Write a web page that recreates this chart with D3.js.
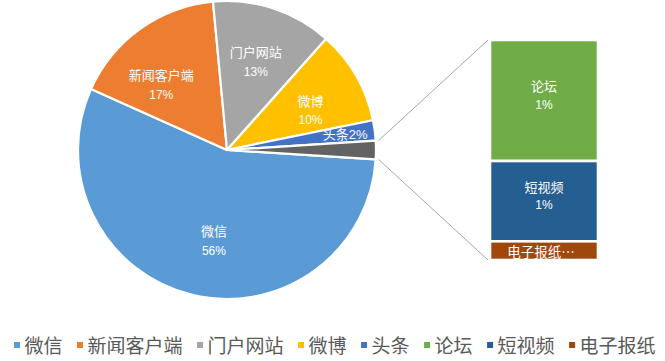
<!DOCTYPE html>
<html><head><meta charset="utf-8">
<script src="https://cdn.jsdelivr.net/npm/d3@7"></script>
<style>
body{margin:0;background:#fff;}
text{font-family:"Liberation Sans Narrow","Liberation Sans","Noto Sans CJK SC",sans-serif;}
</style></head>
<body><svg id="c" width="665" height="361"></svg>
<script>
// Main pie categories
const pieNames  = ["微信","新闻客户端","门户网站","微博","头条"];
const pieValues = [55.7, 16.8, 13.1, 10.2, 2.2];
const pieColors = ["#5B9BD5","#ED7D31","#A5A5A5","#FFC000","#4472C4"];
// Secondary bar categories (the "other" slice)
const barNames  = ["论坛","短视频","电子报纸"];
const barValues = [1.1, 0.73, 0.17];
const barColors = ["#70AD47","#255E91","#9E480E"];
const otherColor = "#636363";

const svg = d3.select("#c");
const cx = 227, cy = 150, r = 149;
const otherTotal = d3.sum(barValues);
const all = d3.sum(pieValues) + otherTotal;
const pct = d3.format(".0%");

const pieData = pieNames.map((n,i)=>({name:n, value:pieValues[i], color:pieColors[i]}))
  .concat([{name:"其他", value:otherTotal, color:otherColor, other:true}]);
const otherAng = otherTotal/all*2*Math.PI;
const start = Math.PI/2 + otherAng/2;
const arcs = d3.pie().sort(null).value(d=>d.value).startAngle(start).endAngle(start+2*Math.PI)(pieData);
const arc = d3.arc().innerRadius(0).outerRadius(r);
const g = svg.append("g").attr("transform",`translate(${cx},${cy})`);
g.selectAll("path").data(arcs).join("path")
  .attr("d",arc).attr("fill",d=>d.data.color)
  .attr("stroke","#fff").attr("stroke-width",2.2).attr("stroke-linejoin","round");

// slice labels (slight angular pull toward the large slice, as in the source)
const labelShift = [-0.1, -0.17, 0, 0.08, 0];
arcs.filter(a=>!a.data.other).forEach((a,i)=>{
  const span = a.endAngle - a.startAngle;
  const mid = (a.startAngle + a.endAngle)/2 + labelShift[i];
  const narrow = span < 0.2;
  const R = narrow ? r*0.8 : r*0.62;
  const x = R*Math.sin(mid), y = -R*Math.cos(mid);
  const t = a.data.value/all;
  if (narrow) {
    g.append("text").attr("x",x).attr("y",y).attr("text-anchor","middle")
      .attr("dominant-baseline","central").attr("fill","#fff").attr("font-size",13)
      .text(a.data.name + pct(t));
  } else {
    g.append("text").attr("x",x).attr("y",y-9.5).attr("text-anchor","middle")
      .attr("dominant-baseline","central").attr("fill","#fff").attr("font-size",13)
      .text(a.data.name);
    g.append("text").attr("x",x).attr("y",y+9.5).attr("text-anchor","middle")
      .attr("dominant-baseline","central").attr("fill","#fff").attr("font-size",12)
      .text(pct(t));
  }
});

// secondary bar
const barX = 490, barW = 108;
const yScale = d3.scaleLinear().domain([0, otherTotal]).range([40, 260]);
let acc = 0;
const segs = barValues.map((v,i)=>{const s={name:barNames[i],value:v,color:barColors[i],y0:acc,y1:acc+v}; acc+=v; return s;});
const bg = svg.append("g");
bg.selectAll("rect").data(segs).join("rect")
  .attr("x",barX).attr("width",barW)
  .attr("y",d=>yScale(d.y0)).attr("height",d=>yScale(d.y1)-yScale(d.y0))
  .attr("fill",d=>d.color).attr("stroke","#fff").attr("stroke-width",2.6);
segs.forEach(s=>{
  const h = yScale(s.y1)-yScale(s.y0);
  const my = (yScale(s.y0)+yScale(s.y1))/2;
  const mx = barX + barW/2;
  if (h < 30) {
    bg.append("text").attr("x",mx-3).attr("y",my).attr("text-anchor","middle")
      .attr("dominant-baseline","central").attr("fill","#fff").attr("font-size",13.5)
      .style("font-family","'Noto Sans CJK SC',sans-serif")
      .text(s.name + "⋯");
  } else {
    bg.append("text").attr("x",mx).attr("y",my-14).attr("text-anchor","middle")
      .attr("dominant-baseline","central").attr("fill","#fff").attr("font-size",13)
      .text(s.name);
    bg.append("text").attr("x",mx).attr("y",my+4).attr("text-anchor","middle")
      .attr("dominant-baseline","central").attr("fill","#fff").attr("font-size",12)
      .text(pct(s.value/all));
  }
});

// leader lines
const oa = arcs[arcs.length-1];
const lr = r + 3;
[[oa.startAngle, yScale(0)],[oa.endAngle, yScale(otherTotal)]].forEach(([ang, ty])=>{
  svg.append("line")
    .attr("x1", cx + lr*Math.sin(ang)).attr("y1", cy - lr*Math.cos(ang))
    .attr("x2", barX - 2).attr("y2", ty)
    .attr("stroke","#A6A6A6").attr("stroke-width",1);
});

// legend
const legNames = pieNames.concat(barNames);
const legColors = pieColors.concat(barColors);
const lg = svg.append("g");
let lx = 14;
legNames.forEach((n,i)=>{
  lg.append("rect").attr("x",lx).attr("y",342).attr("width",6).attr("height",6).attr("fill",legColors[i]);
  const t = lg.append("text").attr("x",lx+10.5).attr("y",346).attr("dominant-baseline","central")
    .attr("font-size",19).attr("fill","#595959").text(n);
  lx += 10.5 + t.node().getComputedTextLength() + 14.5;
});
</script></body></html>
